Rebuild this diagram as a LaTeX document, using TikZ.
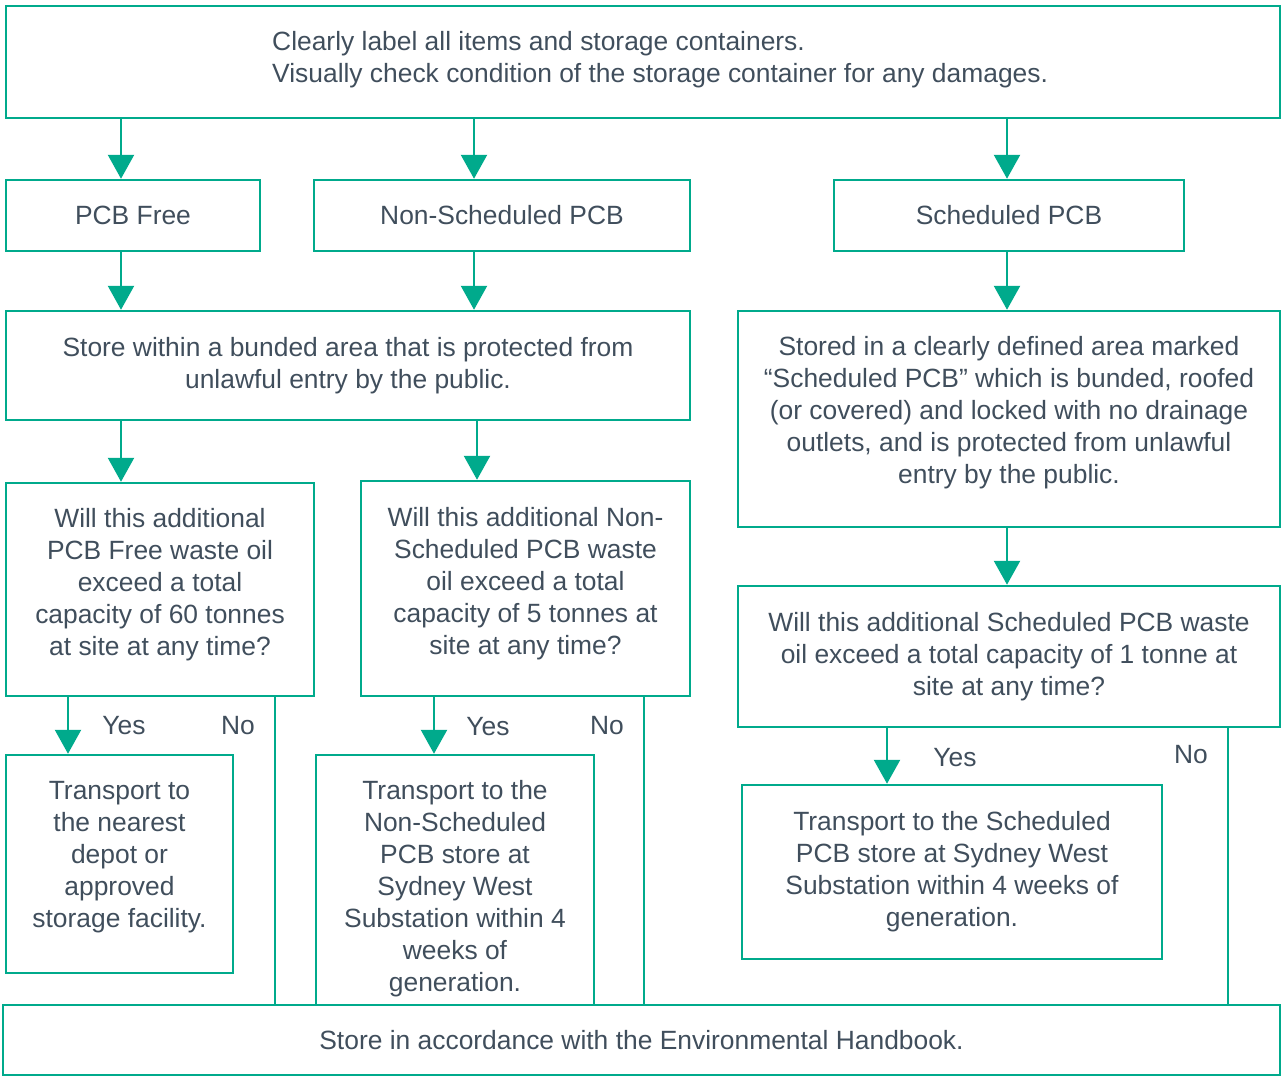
\documentclass[tikz,border=0pt]{standalone}
\usepackage{fontspec}
\setmainfont{Liberation Sans}
\usepackage{tikz}
\usetikzlibrary{arrows.meta, positioning, calc}
\definecolor{linecolor}{RGB}{0, 170, 140}
\definecolor{textcolor}{RGB}{64, 78, 92}
% first baseline of the lines sits #1 above the box centre
\newcommand{\liftlines}[2]{\raisebox{#1}[0pt][0pt]{\begin{tabular}[t]{@{}c@{}}#2\end{tabular}}}

\begin{document}
\begin{tikzpicture}[x=1pt, y=-1pt,
    box/.style={draw=linecolor, line width=2.5pt, rectangle, inner sep=0pt, align=center, text=textcolor, font=\fontsize{26.4}{32}\selectfont},
    lbl/.style={text=textcolor, font=\fontsize{26.4}{32}\selectfont, inner sep=0pt},
    arr/.style={draw=linecolor, line width=2.5pt, -{Triangle[width=26pt, length=24pt]}},
    noline/.style={draw=linecolor, line width=2.5pt}]
    \useasboundingbox (0, 0) rectangle (1282, 1077);

    % Top box
    \node[box, minimum width=1274, minimum height=112] (top) at (643, 62) {};
    \node[lbl, anchor=west, align=left] (toptext) at (272, 60) {Clearly label all items and storage containers.\\Visually check condition of the storage container for any damages.};

    % Row 1
    \node[box, minimum width=254, minimum height=71] (free) at (133, 215.5) {PCB Free};
    \node[box, minimum width=376, minimum height=71] (nonsch) at (502, 215.5) {Non-Scheduled PCB};
    \node[box, minimum width=350, minimum height=71] (sch) at (1009, 215.5) {Scheduled PCB};

    % Row 2
    \node[box, minimum width=684, minimum height=109] (store) at (348, 365.5) {Store within a bunded area that is protected from\\unlawful entry by the public.};
    \node[box, minimum width=542, minimum height=216] (stored) at (1009, 419) {\liftlines{64pt}{Stored in a clearly defined area marked\\``Scheduled PCB'' which is bunded, roofed\\(or covered) and locked with no drainage\\outlets, and is protected from unlawful\\entry by the public.}};

    % Row 3 - questions
    \node[box, minimum width=308, minimum height=213] (qfree) at (160, 589.5) {\liftlines{62.5pt}{Will this additional\\PCB Free waste oil\\exceed a total\\capacity of 60 tonnes\\at site at any time?}};
    \node[box, minimum width=329, minimum height=215] (qnonsch) at (525.5, 588.5) {\liftlines{62.5pt}{Will this additional Non-\\Scheduled PCB waste\\oil exceed a total\\capacity of 5 tonnes at\\site at any time?}};
    \node[box, minimum width=542, minimum height=141] (qsch) at (1009, 656.5) {Will this additional Scheduled PCB waste\\oil exceed a total capacity of 1 tonne at\\site at any time?};

    % Row 4 - transport
    \node[box, minimum width=227, minimum height=218] (tfree) at (119.5, 864) {\liftlines{65pt}{Transport to\\the nearest\\depot or\\approved\\storage facility.}};
    \node[box, minimum width=278, minimum height=250] (tnonsch) at (455, 880) {\liftlines{81pt}{Transport to the\\Non-Scheduled\\PCB store at\\Sydney West\\Substation within 4\\weeks of\\generation.}};
    \node[box, minimum width=420, minimum height=174] (tsch) at (952, 872) {Transport to the Scheduled\\PCB store at Sydney West\\Substation within 4 weeks of\\generation.};

    % Bottom box
    \node[box, minimum width=1277, minimum height=70] (final) at (641.5, 1040) {Store in accordance with the Environmental Handbook.};

    % Columns
    \coordinate (c1) at (121, 0);
    \coordinate (c2) at (474, 0);
    \coordinate (c3) at (1007, 0);
    \coordinate (y1) at (68, 0);
    \coordinate (y2) at (434, 0);
    \coordinate (y3) at (887, 0);
    \coordinate (n1) at (275, 0);
    \coordinate (n2) at (644, 0);
    \coordinate (n3) at (1228, 0);

    % Arrows
    \draw[arr] (top.south -| c1) -- (free.north -| c1);
    \draw[arr] (top.south -| c2) -- (nonsch.north -| c2);
    \draw[arr] (top.south -| c3) -- (sch.north -| c3);
    \draw[arr] (free.south -| c1) -- (store.north -| c1);
    \draw[arr] (nonsch.south -| c2) -- (store.north -| c2);
    \draw[arr] (sch.south -| c3) -- (stored.north -| c3);
    \draw[arr] (store.south -| c1) -- (qfree.north -| c1);
    \draw[arr] ([xshift=3pt]store.south -| c2) -- ([xshift=3pt]qnonsch.north -| c2);
    \draw[arr] (stored.south -| c3) -- (qsch.north -| c3);

    % Yes
    \draw[arr] (qfree.south -| y1) -- (tfree.north -| y1);
    \draw[arr] (qnonsch.south -| y2) -- (tnonsch.north -| y2);
    \draw[arr] (qsch.south -| y3) -- (tsch.north -| y3);
    \node[lbl] (yes1) at (124, 726) {Yes};
    \node[lbl] (yes2) at (488, 727) {Yes};
    \node[lbl] (yes3) at (955, 758) {Yes};

    % No
    \draw[noline] (qfree.south -| n1) -- (final.north -| n1);
    \draw[noline] (qnonsch.south -| n2) -- (final.north -| n2);
    \draw[noline] (qsch.south -| n3) -- (final.north -| n3);
    \node[lbl] (no1) at (238, 726) {No};
    \node[lbl] (no2) at (607, 726) {No};
    \node[lbl] (no3) at (1191, 755) {No};
\end{tikzpicture}
\end{document}
